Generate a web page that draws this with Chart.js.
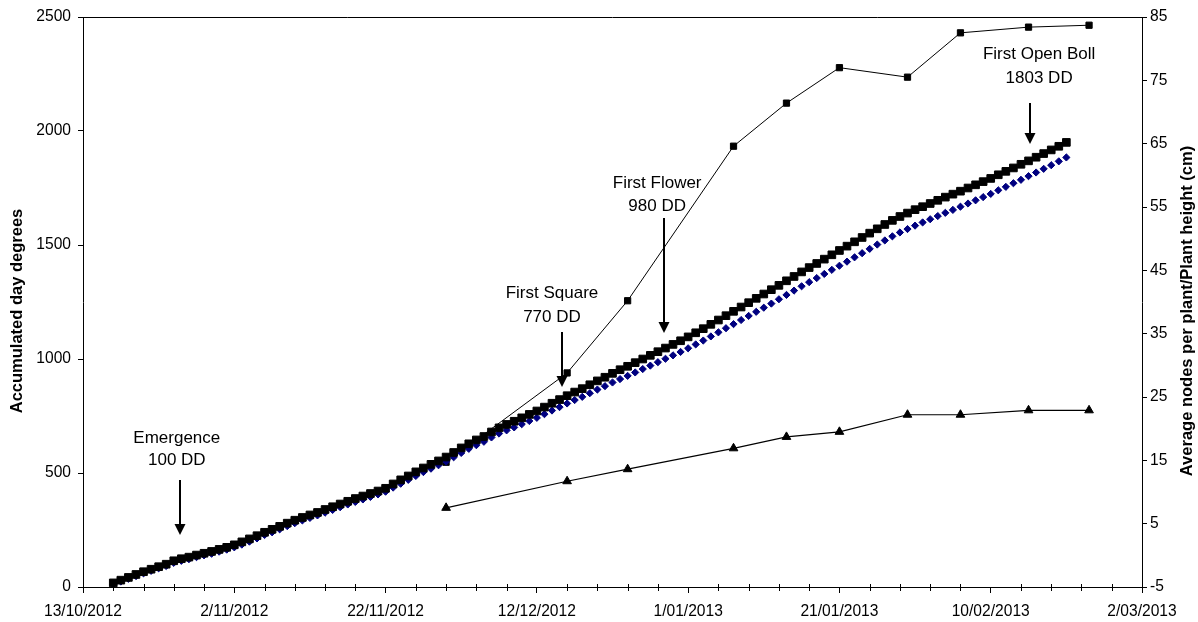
<!DOCTYPE html>
<html>
<head>
<meta charset="utf-8">
<title>Accumulated day degrees</title>
<script src="https://cdn.jsdelivr.net/npm/chart.js@4.4.0/dist/chart.umd.min.js"></script>
<style>
  body { margin: 0; background: #fff; }
  canvas { display: block; }
</style>
</head>
<body>
<canvas id="ddChart" width="1198" height="622"></canvas>
<script>
// x axis runs in days counted from 13/10/2012
const axisStart = '2012-10-13';
const axisEnd = '2013-03-02';

// daily accumulated day degrees, first point on 17/10/2012
const dailyStart = '2012-10-17';
const ddBlack = [
  18, 30, 42, 55, 67, 78, 89, 100, 115, 124,
  131, 140, 148, 156, 165, 174, 185, 198, 211, 225,
  240, 253, 266, 280, 293, 305, 316, 327, 340, 352,
  364, 376, 388, 399, 410, 421, 433, 452, 470, 487,
  505, 522, 538, 553, 570, 590, 610, 628, 645, 660,
  680, 698, 713, 727, 742, 757, 772, 789, 806, 822,
  839, 855, 870, 887, 904, 920, 937, 953, 968, 984,
  1000, 1016, 1032, 1048, 1064, 1080, 1097, 1115, 1133, 1152,
  1171, 1190, 1209, 1228, 1247, 1266, 1285, 1304, 1323, 1343,
  1362, 1382, 1401, 1419, 1438, 1457, 1476, 1495, 1514, 1533,
  1552, 1571, 1590, 1608, 1625, 1640, 1655, 1668, 1682, 1696,
  1710, 1723, 1736, 1750, 1764, 1778, 1792, 1808, 1823, 1838,
  1854, 1869, 1885, 1901, 1917, 1933, 1950
];
const ddBlue = [
  12, 24, 36, 48, 60, 71, 82, 92, 106, 115,
  122, 131, 139, 146, 155, 164, 174, 186, 199, 213,
  228, 240, 253, 267, 280, 292, 303, 314, 326, 338,
  350, 362, 373, 384, 395, 406, 418, 436, 453, 470,
  487, 504, 519, 534, 550, 569, 588, 606, 622, 637,
  656, 673, 687, 700, 714, 728, 742, 758, 774, 789,
  805, 820, 834, 850, 866, 881, 897, 912, 926, 941,
  956, 971, 986, 1001, 1016, 1031, 1047, 1064, 1081, 1099,
  1117, 1135, 1153, 1171, 1189, 1207, 1225, 1243, 1262, 1281,
  1300, 1319, 1337, 1355, 1373, 1391, 1409, 1427, 1446, 1464,
  1483, 1502, 1520, 1538, 1555, 1570, 1585, 1599, 1613, 1627,
  1641, 1654, 1668, 1682, 1696, 1710, 1724, 1740, 1755, 1771,
  1786, 1802, 1818, 1834, 1850, 1867, 1884
];

// plant measurements, right axis
const plantDates = ['2012-11-30', '2012-12-16', '2012-12-24', '2013-01-07', '2013-01-14',
  '2013-01-21', '2013-01-30', '2013-02-06', '2013-02-15', '2013-02-23'];
const plantHeight = [14.7, 28.8, 40.2, 64.6, 71.4, 77.0, 75.5, 82.5, 83.4, 83.7];
const plantNodes = [7.5, 11.7, 13.6, 16.9, 18.7, 19.5, 22.2, 22.2, 22.9, 22.9];

// growth stages
const stageNames = ['Emergence', 'First Square', 'First Flower', 'First Open Boll'];
const stageDD = ['100 DD', '770 DD', '980 DD', '1803 DD'];

const leftTitle = 'Accumulated day degrees';
const rightTitle = 'Average nodes per plant/Plant height (cm)';

const dayMs = 86400000;
function dayNo(s) {
  return (Date.parse(s) - Date.parse(axisStart)) / dayMs;
}
function dateLabel(day) {
  const d = new Date(Date.parse(axisStart) + day * dayMs);
  return d.getUTCDate() + '/' + String(d.getUTCMonth() + 1).padStart(2, '0') + '/' + d.getUTCFullYear();
}

const firstDay = dayNo(dailyStart);
const blackPts = ddBlack.map((v, i) => ({ x: firstDay + i, y: v }));
const bluePts = ddBlue.map((v, i) => ({ x: firstDay + i, y: v }));
const heightPts = plantHeight.map((v, i) => ({ x: dayNo(plantDates[i]), y: v }));
const nodePts = plantNodes.map((v, i) => ({ x: dayNo(plantDates[i]), y: v }));

// where the stage labels and arrows sit (x in days, y in day degrees)
const stageMarks = [
  { textX: 12.4, line1: 653, line2: 557, arrowX: 12.8, from: 469, to: 228 },
  { textX: 62.0, line1: 1289, line2: 1184, arrowX: 63.3, from: 1118, to: 877 },
  { textX: 75.9, line1: 1772, line2: 1671, arrowX: 76.8, from: 1618, to: 1114 },
  { textX: 126.4, line1: 2338, line2: 2232, arrowX: 125.2, from: 2123, to: 1943 }
];

const fontName = "'Liberation Sans', Arial, sans-serif";

const extras = {
  id: 'extras',
  afterDraw(chart) {
    const ctx = chart.ctx;
    const area = chart.chartArea;
    const xs = chart.scales.x;
    const ys = chart.scales.y;
    ctx.save();
    ctx.strokeStyle = '#000';
    ctx.fillStyle = '#000';

    // top frame line
    ctx.lineWidth = 1;
    ctx.beginPath();
    ctx.moveTo(area.left, area.top + 0.5);
    ctx.lineTo(area.right, area.top + 0.5);
    ctx.stroke();

    // minor x ticks cross the axis line
    ctx.beginPath();
    xs.ticks.forEach(t => {
      if (t.value % 20 === 0) return;
      const px = Math.round(xs.getPixelForValue(t.value)) + 0.5;
      ctx.moveTo(px, area.bottom - 3);
      ctx.lineTo(px, area.bottom + 4);
    });
    ctx.stroke();

    // axis titles, both read bottom to top
    ctx.font = 'bold 16.5px ' + fontName;
    ctx.textAlign = 'center';
    ctx.textBaseline = 'middle';
    const midY = (area.top + area.bottom) / 2 + 9;
    [[17, leftTitle], [1187, rightTitle]].forEach(([tx, txt]) => {
      ctx.save();
      ctx.translate(tx, midY);
      ctx.rotate(-Math.PI / 2);
      ctx.fillText(txt, 0, 0);
      ctx.restore();
    });

    // stage labels and arrows
    ctx.font = '17px ' + fontName;
    stageMarks.forEach((m, i) => {
      const tx = xs.getPixelForValue(m.textX);
      ctx.fillText(stageNames[i], tx, ys.getPixelForValue(m.line1));
      ctx.fillText(stageDD[i], tx, ys.getPixelForValue(m.line2));
      const ax = Math.round(xs.getPixelForValue(m.arrowX));
      const y0 = ys.getPixelForValue(m.from);
      const y1 = ys.getPixelForValue(m.to);
      ctx.lineWidth = 2;
      ctx.beginPath();
      ctx.moveTo(ax, y0);
      ctx.lineTo(ax, y1 - 9);
      ctx.stroke();
      ctx.beginPath();
      ctx.moveTo(ax - 5.5, y1 - 11);
      ctx.lineTo(ax + 5.5, y1 - 11);
      ctx.lineTo(ax, y1);
      ctx.closePath();
      ctx.fill();
    });
    ctx.restore();
  }
};

new Chart(document.getElementById('ddChart'), {
  type: 'line',
  data: {
    datasets: [
      {
        label: 'Accumulated DD',
        data: blackPts,
        yAxisID: 'y',
        showLine: false,
        pointStyle: 'rect',
        pointRadius: 5.4,
        pointBorderWidth: 1,
        pointBackgroundColor: '#000',
        pointBorderColor: '#000'
      },
      {
        label: 'Accumulated DD (2)',
        data: bluePts,
        yAxisID: 'y',
        showLine: false,
        pointStyle: 'rectRot',
        pointRadius: 3.6,
        pointBorderWidth: 1,
        pointBackgroundColor: '#000080',
        pointBorderColor: '#000080'
      },
      {
        label: 'Plant height (cm)',
        data: heightPts,
        yAxisID: 'y2',
        borderColor: '#000',
        borderWidth: 1,
        pointStyle: 'rect',
        pointRadius: 4.4,
        pointBorderWidth: 1,
        pointBackgroundColor: '#000',
        pointBorderColor: '#000'
      },
      {
        label: 'Average nodes per plant',
        data: nodePts,
        yAxisID: 'y2',
        borderColor: '#000',
        borderWidth: 1.2,
        pointStyle: 'triangle',
        pointRadius: 5,
        pointBorderWidth: 1,
        pointBackgroundColor: '#000',
        pointBorderColor: '#000'
      }
    ]
  },
  options: {
    responsive: false,
    animation: false,
    layout: { padding: { top: 17, left: 0, right: 0, bottom: 0 } },
    plugins: {
      legend: { display: false },
      tooltip: { enabled: false }
    },
    scales: {
      x: {
        type: 'linear',
        min: 0,
        max: dayNo(axisEnd),
        afterFit: s => { s.height = 35; },
        border: { color: '#000', width: 1 },
        grid: {
          drawOnChartArea: false,
          tickLength: 6,
          tickColor: c => (c.tick && c.tick.value % 20 === 0 ? '#000' : 'rgba(0,0,0,0)')
        },
        ticks: {
          stepSize: 4,
          autoSkip: false,
          maxRotation: 0,
          padding: 9,
          color: '#000',
          font: { family: fontName, size: 15.6 },
          callback: v => (v % 20 === 0 ? dateLabel(v) : '')
        }
      },
      y: {
        position: 'left',
        min: 0,
        max: 2500,
        afterFit: s => { s.width = 83; },
        border: { color: '#000', width: 1 },
        grid: { drawOnChartArea: false, tickLength: 5, tickColor: '#000' },
        ticks: {
          stepSize: 500,
          padding: 7,
          color: '#000',
          font: { family: fontName, size: 15.6 },
          callback: v => String(v)
        }
      },
      y2: {
        position: 'right',
        min: -5,
        max: 85,
        afterFit: s => { s.width = 56; },
        border: { color: '#000', width: 1 },
        grid: { drawOnChartArea: false, tickLength: 5, tickColor: '#000' },
        ticks: {
          stepSize: 10,
          padding: 3,
          color: '#000',
          font: { family: fontName, size: 15.6 },
          callback: v => String(v)
        }
      }
    }
  },
  plugins: [extras]
});
</script>
</body>
</html>
